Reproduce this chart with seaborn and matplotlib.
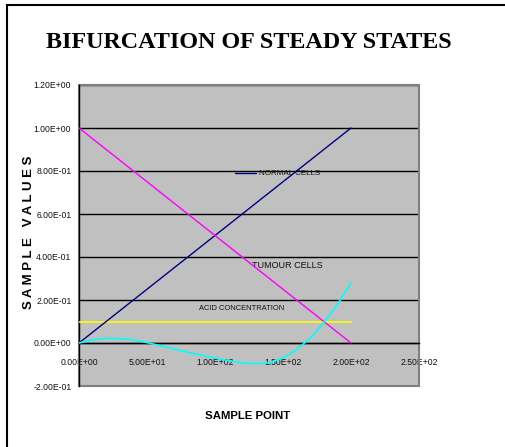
import matplotlib
matplotlib.use("Agg")
import matplotlib.pyplot as plt
from matplotlib import font_manager
from matplotlib.patches import Rectangle
from matplotlib.ticker import FuncFormatter, MultipleLocator
import seaborn as sns
import pandas as pd

# ---- data ----
sample_point = [0, 10, 20, 30, 40, 50, 60, 70, 80, 90, 100,
                110, 120, 130, 140, 150, 160, 170, 180, 190, 200]
normal_cells = [0.00, 0.05, 0.10, 0.15, 0.20, 0.25, 0.30, 0.35, 0.40, 0.45, 0.50,
                0.55, 0.60, 0.65, 0.70, 0.75, 0.80, 0.85, 0.90, 0.95, 1.00]
tumour_cells = [1.00, 0.95, 0.90, 0.85, 0.80, 0.75, 0.70, 0.65, 0.60, 0.55, 0.50,
                0.45, 0.40, 0.35, 0.30, 0.25, 0.20, 0.15, 0.10, 0.05, 0.00]
acid_conc = [0.10] * 21
fourth_series = [0.000, 0.015, 0.022, 0.021, 0.014, 0.002, -0.013, -0.028, -0.043, -0.057, -0.070,
                 -0.082, -0.092, -0.097, -0.092, -0.070, -0.030, 0.022, 0.095, 0.180, 0.280]
series_labels = ["NORMAL CELLS", "TUMOUR CELLS", "ACID CONCENTRATION"]

available = {f.name for f in font_manager.fontManager.ttflist}
sans = "Liberation Sans" if "Liberation Sans" in available else "DejaVu Sans"
serif = "Liberation Serif" if "Liberation Serif" in available else "DejaVu Serif"

sns.set_style("white")
plt.rcParams["font.family"] = [sans, "DejaVu Sans"]

df = pd.DataFrame({"x": sample_point, "normal": normal_cells, "tumour": tumour_cells,
                   "acid": acid_conc, "other": fourth_series})

W, H = 506, 447
fig = plt.figure(figsize=(W / 100, H / 100), dpi=100)
fig.patch.set_facecolor("white")
ax = fig.add_axes([79 / W, 1 - 386 / H, (419 - 79) / W, (386 - 85) / H])
ax.set_facecolor("#C0C0C0")

sns.lineplot(data=df, x="x", y="normal", ax=ax, color="#000080", lw=1.0, zorder=4)
sns.lineplot(data=df, x="x", y="tumour", ax=ax, color="#FF00FF", lw=1.0, zorder=4)
sns.lineplot(data=df, x="x", y="acid", ax=ax, color="#FFFF00", lw=1.2, zorder=3)
sns.lineplot(data=df, x="x", y="other", ax=ax, color="#00FFFF", lw=1.2, zorder=4)

ax.set_xlim(0, 250)
ax.set_ylim(-0.2, 1.2)
ax.xaxis.set_major_locator(MultipleLocator(50))
ax.yaxis.set_major_locator(MultipleLocator(0.2))
fmt = FuncFormatter(lambda v, p: f"{v:.2E}")
ax.xaxis.set_major_formatter(fmt)
ax.yaxis.set_major_formatter(fmt)
ax.tick_params(axis="both", direction="out", length=4, width=1, color="black",
               labelsize=6.2, labelcolor="#111111")
ax.tick_params(axis="y", pad=1.5)
ax.tick_params(axis="x", pad=7)
ax.set_xlabel("")
ax.set_ylabel("")

ax.grid(axis="y", color="black", lw=1.0, zorder=1)
ax.set_axisbelow(True)

for s in ["top", "right"]:
    ax.spines[s].set_visible(False)
ax.spines["bottom"].set_position(("data", 0))
ax.spines["bottom"].set_color("black")
ax.spines["bottom"].set_linewidth(1.0)
ax.spines["left"].set_color("black")
ax.spines["left"].set_linewidth(1.0)
ax.add_patch(Rectangle((0, 0), 1, 1, transform=ax.transAxes, fill=False,
                       edgecolor="#808080", lw=1.5, zorder=2, clip_on=False))

# in-plot series labels
ax.plot([115, 130], [0.79, 0.79], color="#000080", lw=1.0)
ax.text(132, 0.79, series_labels[0], fontsize=5.8, va="center", ha="left", color="#111111")
ax.text(127, 0.36, series_labels[1], fontsize=6.5, va="center", ha="left", color="#111111")
ax.text(88, 0.16, series_labels[2], fontsize=5.4, va="center", ha="left", color="#111111")

# titles
fig.text(249 / W, 1 - 43 / H, "BIFURCATION OF STEADY STATES", family=serif,
         fontweight="bold", fontsize=17.4, ha="center", va="center", color="black")
fig.text(248 / W, 1 - 416 / H, "SAMPLE POINT", fontweight="bold",
         fontsize=8.2, ha="center", va="center", color="black")
fig.text(29 / W, 1 - 232 / H, "S A M P L E   V A L U E S", fontweight="bold",
         fontsize=9.5, ha="center", va="center", rotation=90, color="black")

# outer frame
fig.patches.append(Rectangle((7 / W, -0.1), 1.2, 1 - 5 / H + 0.1, transform=fig.transFigure,
                             fill=False, edgecolor="black", lw=1.5))

fig.savefig("out.png", dpi=100)
